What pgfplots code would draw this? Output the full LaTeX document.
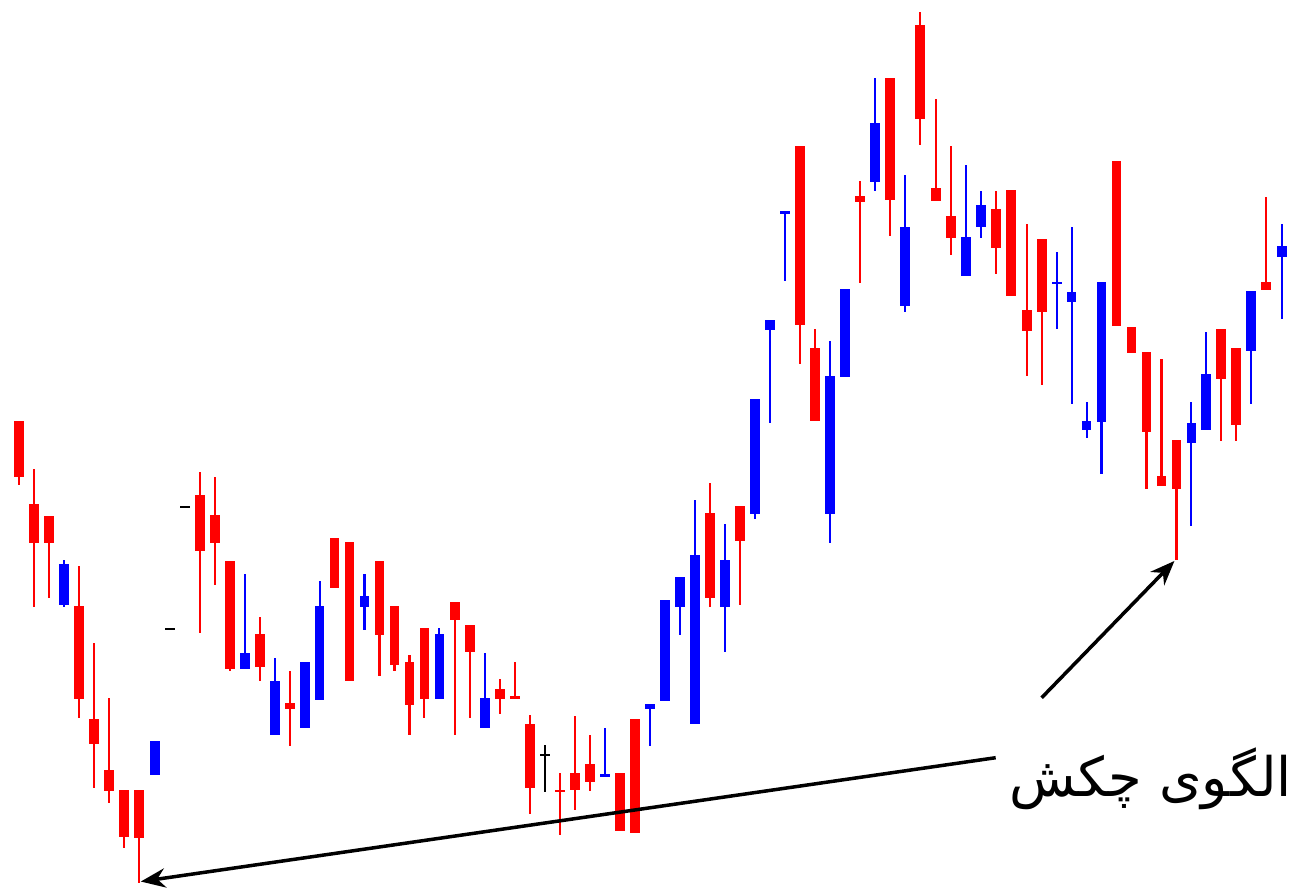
\documentclass[border=0pt]{standalone}
\usepackage{pgfplots}
\usepackage{pgfplotstable}
\pgfplotsset{compat=1.18}
\usetikzlibrary{arrows.meta}
\usepackage{fontspec}
\newfontfamily\arabicfont[Script=Arabic]{DejaVu Sans}
\TeXXeTstate=1

% candles in image pixels: x, wick top/bottom, body top/bottom (y grows downward)
\pgfplotstableread{
x hi lo bt bb
19 418 482 418 474
34 466 604 501 540
49 513 595 513 540
79 563 715 603 696
94 640 785 716 741
109 695 800 767 788
124 787 845 787 834
139 787 880 787 835
200 469 630 492 548
215 474 582 512 540
230 558 668 558 666
260 614 678 631 664
290 668 743 700 706
335 535 585 535 585
350 539 678 539 678
380 558 673 558 632
395 603 668 603 662
410 652 732 659 702
425 625 715 625 696
456 599 732 599 617
471 622 715 622 649
501 676 711 686 696
516 659 696 693 696
531 712 811 721 785
561 770 832 787 789
576 713 807 770 787
591 732 788 761 779
621 770 828 770 828
636 716 830 716 830
711 480 604 510 595
741 503 602 503 538
801 142 361 142 322
816 326 418 345 418
861 178 280 193 199
891 74 233 74 197
921 8 141 21 115
937 95 198 185 198
952 142 252 213 235
997 188 271 206 245
1012 187 293 187 293
1028 221 373 307 328
1043 236 382 236 309
1118 158 323 158 323
1133 324 350 324 350
1148 349 486 349 429
1163 356 483 473 483
1178 437 557 437 486
1223 326 438 326 376
1238 345 438 345 422
1268 194 287 279 287
}\redcandles

\pgfplotstableread{
x hi lo bt bb
64 557 604 561 602
155 738 772 738 772
245 571 666 650 666
275 655 732 678 732
305 659 725 659 725
320 578 697 603 697
365 571 627 593 604
440 625 696 631 696
486 650 725 695 725
606 725 774 771 774
651 701 743 701 706
666 597 698 597 698
681 574 632 574 604
696 497 721 552 721
726 521 649 557 604
756 396 516 396 511
771 317 420 317 327
786 208 278 208 211
831 338 540 373 511
846 286 374 286 374
876 74 188 119 179
906 172 309 224 303
967 162 273 234 273
982 188 235 202 224
1058 249 326 279 281
1073 224 401 289 299
1088 399 435 418 427
1103 279 471 279 419
1193 399 523 420 440
1208 329 427 371 427
1253 288 401 288 348
1284 221 316 243 254
}\bluecandles

\pgfplotstableread{
x hi lo bt bb
170 626 626 625 627
185 504 504 503 505
546 742 789 751 753
}\blackcandles

\pgfplotsset{
  wick/.style={draw=none, mark=none, forget plot,
    error bars/.cd, y dir=both, y explicit, error mark=none,
    error bar style={draw=#1, solid, line width=0.6pt}},
  body/.style={draw=none, mark=none, forget plot,
    error bars/.cd, y dir=both, y explicit, error mark=none,
    error bar style={draw=#1, solid, line width=2.8pt}},
}

\begin{document}
\begin{tikzpicture}
\begin{axis}[
    width=12.94cm, height=8.87cm, scale only axis,
    xmin=0, xmax=1294, ymin=0, ymax=887,
    y dir=reverse,
    hide axis,
    clip=false,
]
\path (axis cs:0,0) rectangle (axis cs:1294,887);

\addplot[wick=red] table[x=x, y expr=(\thisrow{hi}+\thisrow{lo})/2,
  y error expr=(\thisrow{lo}-\thisrow{hi})/2] {\redcandles};
\addplot[body=red] table[x=x, y expr=(\thisrow{bt}+\thisrow{bb})/2,
  y error expr=(\thisrow{bb}-\thisrow{bt})/2] {\redcandles};
\addplot[wick=blue] table[x=x, y expr=(\thisrow{hi}+\thisrow{lo})/2,
  y error expr=(\thisrow{lo}-\thisrow{hi})/2] {\bluecandles};
\addplot[body=blue] table[x=x, y expr=(\thisrow{bt}+\thisrow{bb})/2,
  y error expr=(\thisrow{bb}-\thisrow{bt})/2] {\bluecandles};
\addplot[wick=black] table[x=x, y expr=(\thisrow{hi}+\thisrow{lo})/2,
  y error expr=(\thisrow{lo}-\thisrow{hi})/2] {\blackcandles};
\addplot[body=black] table[x=x, y expr=(\thisrow{bt}+\thisrow{bb})/2,
  y error expr=(\thisrow{bb}-\thisrow{bt})/2] {\blackcandles};

% annotations
\draw[line width=1pt, -{Stealth[length=7pt,width=5.5pt]}]
  (axis cs:997,755) -- (axis cs:141,879);
\draw[line width=1pt, -{Stealth[length=7pt,width=5.5pt]}]
  (axis cs:1043,695) -- (axis cs:1176,558);
\node[anchor=center, inner sep=0pt] at (axis cs:1152,776)
  {\fontsize{15.5}{18}\arabicfont\beginR الگوی چکش\endR};
\end{axis}
\end{tikzpicture}
\end{document}
